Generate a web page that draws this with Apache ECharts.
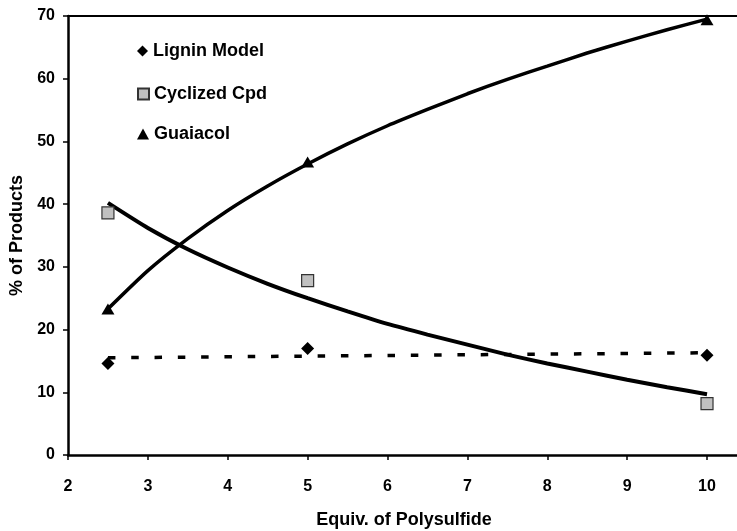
<!DOCTYPE html>
<html>
<head>
<meta charset="utf-8">
<script src="https://cdn.jsdelivr.net/npm/echarts@6/dist/echarts.min.js"></script>
<style>html,body{margin:0;padding:0;background:#fff}#c{width:737px;height:531px}</style>
</head>
<body>
<div id="c"></div>
<script>
// Measured points
const xValues = [2.5, 5, 10];
const ligninModel = [14.6, 17.0, 15.9];
const cyclizedCpd = [38.6, 27.8, 8.2];
const guaiacol = [23.3, 46.7, 69.4];

// Trendlines
const trendX = [2.5, 3, 3.5, 4, 4.5, 5, 5.5, 6, 6.5, 7, 7.5, 8, 8.5, 9, 9.5, 10];
const guaiacolTrend = [23.3, 29.4, 34.5, 39.0, 42.9, 46.4, 49.6, 52.5, 55.1, 57.6, 59.9, 62.0, 64.1, 66.0, 67.8, 69.5];
const cyclizedTrend = [40.2, 36.2, 32.8, 29.9, 27.3, 25.0, 22.9, 20.9, 19.2, 17.6, 16.0, 14.6, 13.3, 12.0, 10.8, 9.7];
const ligninTrendX = [2.5, 10];
const ligninTrend = [15.5, 16.3];

const yTicks = [0, 10, 20, 30, 40, 50, 60, 70];
const seriesNames = ['Lignin Model', 'Cyclized Cpd', 'Guaiacol'];

const FONT = 'Liberation Sans, Arial, Helvetica, sans-serif';
const pair = (xs, ys) => xs.map((x, i) => [x, ys[i]]);

const chart = echarts.init(document.getElementById('c'), null, {renderer: 'canvas'});
const legendBase = {
  orient: 'vertical', left: 132, itemWidth: 11, itemHeight: 11, itemGap: 0,
  textStyle: {fontFamily: FONT, fontWeight: 'bold', fontSize: 18, color: '#000'},
  selectedMode: false
};
chart.setOption({
  animation: false,
  backgroundColor: '#fff',
  textStyle: {fontFamily: FONT},
  grid: {left: 68, right: -3, top: 16, bottom: 76, containLabel: false, outerBoundsMode: 'none'},
  legend: [
    Object.assign({}, legendBase, {top: 37, data: [{name: seriesNames[0], icon: 'diamond'}]}),
    Object.assign({}, legendBase, {top: 80, data: [{name: seriesNames[1], icon: 'rect'}]}),
    Object.assign({}, legendBase, {top: 120, itemWidth: 12, data: [{name: seriesNames[2], icon: 'triangle'}]})
  ],
  xAxis: [{
    type: 'value', min: 2, max: 10.413, interval: 1,
    splitLine: {show: false},
    axisLine: {lineStyle: {color: '#000', width: 2.5}},
    axisTick: {show: true, length: 5, lineStyle: {color: '#000', width: 1.5}},
    axisLabel: {color: '#000', fontWeight: 'bold', fontSize: 16, fontFamily: FONT, margin: 24,
      formatter: v => (Number.isInteger(v) ? String(v) : '')},
    name: 'Equiv. of Polysulfide', nameLocation: 'middle', nameGap: 56,
    nameTextStyle: {color: '#000', fontWeight: 'bold', fontSize: 18, fontFamily: FONT}
  }, {
    type: 'value', position: 'top', min: 2, max: 10.413,
    axisLine: {show: true, onZero: false, lineStyle: {color: '#000', width: 2}},
    axisTick: {show: false}, axisLabel: {show: false}, splitLine: {show: false}
  }],
  yAxis: {
    type: 'value', min: 0, max: 70, interval: 10,
    splitLine: {show: false},
    axisLine: {show: true, lineStyle: {color: '#000', width: 2.5}},
    axisTick: {show: true, length: 5, lineStyle: {color: '#000', width: 1.5}},
    axisLabel: {color: '#000', fontWeight: 'bold', fontSize: 16, fontFamily: FONT, margin: 13,
      formatter: v => (yTicks.includes(v) ? String(v) : '')},
    name: '% of Products', nameLocation: 'middle', nameGap: 33,
    nameTextStyle: {color: '#000', fontWeight: 'bold', fontSize: 18, fontFamily: FONT}
  },
  series: [
    {
      type: 'line', data: pair(ligninTrendX, ligninTrend), symbol: 'none', z: 2,
      lineStyle: {color: '#000', width: 3.5, type: [7.5, 15.8]}, silent: true
    },
    {
      type: 'line', data: pair(trendX, cyclizedTrend), symbol: 'none', z: 2,
      smooth: 0.2,
      lineStyle: {color: '#000', width: 4}, silent: true
    },
    {
      type: 'line', data: pair(trendX, guaiacolTrend), symbol: 'none', z: 2,
      smooth: 0.2,
      lineStyle: {color: '#000', width: 3.5}, silent: true
    },
    {
      name: seriesNames[0], type: 'scatter', data: pair(xValues, ligninModel), z: 5,
      symbol: 'diamond', symbolSize: 13,
      itemStyle: {color: '#000', opacity: 1}
    },
    {
      name: seriesNames[1], type: 'scatter', data: pair(xValues, cyclizedCpd), z: 5,
      symbol: 'rect', symbolSize: 12,
      itemStyle: {color: '#c0c0c0', borderColor: '#333', borderWidth: 1.2, opacity: 1}
    },
    {
      name: seriesNames[2], type: 'scatter', data: pair(xValues, guaiacol), z: 5,
      symbol: 'triangle', symbolSize: [13, 11],
      itemStyle: {color: '#000', opacity: 1}
    }
  ]
});
</script>
</body>
</html>
